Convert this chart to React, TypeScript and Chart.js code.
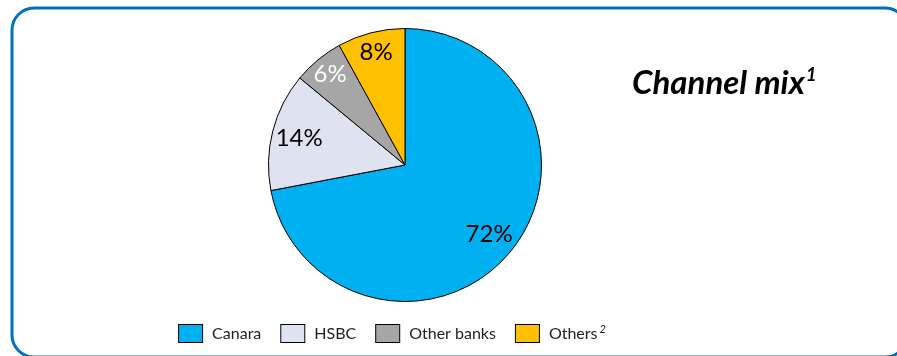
import React, { useEffect, useRef } from "react";
import { Chart, registerables } from "chart.js";
Chart.register(...registerables);

const categories = ["Canara", "HSBC", "Other banks", "Others"];
const shares = [72, 14, 6, 8];
const valueLabels = ["72%", "14%", "6%", "8%"];
const legendSuperscripts = ["", "", "", "2"];
const sliceColors = ["#00B0F0", "#DEE3EF", "#A6A6A6", "#FFC000"];
const labelColors = ["#000000", "#000000", "#ffffff", "#000000"];
const labelRadiusFractions = [0.8, 0.8, 0.86, 0.85];
const titleText = "Channel mix";
const titleSup = "1";

const FONT = "Lato, 'Open Sans', sans-serif";

const decorPlugin = {
  id: "decor",
  afterDraw(chart: any) {
    const ctx = chart.ctx as CanvasRenderingContext2D;
    ctx.save();
    // rounded border
    ctx.strokeStyle = "#0070C0";
    ctx.lineWidth = 3;
    ctx.beginPath();
    (ctx as any).roundRect(12, 8, 895, 349, 22);
    ctx.stroke();

    // title
    ctx.fillStyle = "#000";
    ctx.textAlign = "left";
    ctx.textBaseline = "alphabetic";
    ctx.font = `italic bold 33px ${FONT}`;
    ctx.fillText(titleText, 632, 94);
    const tw = ctx.measureText(titleText).width;
    ctx.font = `italic bold 19px ${FONT}`;
    ctx.fillText(titleSup, 632 + tw + 1, 81);

    // value labels
    const meta = chart.getDatasetMeta(0);
    ctx.font = `24px ${FONT}`;
    ctx.textAlign = "center";
    ctx.textBaseline = "middle";
    meta.data.forEach((arc: any, i: number) => {
      const p = arc.getProps(["x", "y", "startAngle", "endAngle", "outerRadius"], true);
      const mid = (p.startAngle + p.endAngle) / 2;
      const r = p.outerRadius * labelRadiusFractions[i];
      ctx.fillStyle = labelColors[i];
      ctx.fillText(valueLabels[i], p.x + Math.cos(mid) * r, p.y + Math.sin(mid) * r);
    });

    // legend
    const labels: string[] = chart.data.labels;
    const colors: string[] = chart.data.datasets[0].backgroundColor;
    const boxW = 24, boxH = 18, boxGap = 10, itemGap = 19;
    const legFont = `16px ${FONT}`;
    const supFont = `italic 11px ${FONT}`;
    ctx.font = legFont;
    const widths = labels.map((l, i) => {
      let w = ctx.measureText(l).width;
      if (legendSuperscripts[i]) {
        ctx.font = supFont;
        w += 2 + ctx.measureText(legendSuperscripts[i]).width;
        ctx.font = legFont;
      }
      return boxW + boxGap + w;
    });
    const total = widths.reduce((a, b) => a + b, 0) + itemGap * (labels.length - 1);
    let x = 392 - total / 2;
    const cy = 333;
    labels.forEach((l, i) => {
      ctx.fillStyle = colors[i];
      ctx.fillRect(x + 0.5, cy - boxH / 2 + 0.5, boxW, boxH);
      ctx.strokeStyle = "#000";
      ctx.lineWidth = 1;
      ctx.strokeRect(x + 0.5, cy - boxH / 2 + 0.5, boxW, boxH);
      ctx.fillStyle = "#222";
      ctx.textAlign = "left";
      ctx.textBaseline = "middle";
      ctx.font = legFont;
      const tx = x + boxW + boxGap;
      ctx.fillText(l, tx, cy + 1);
      if (legendSuperscripts[i]) {
        const lw = ctx.measureText(l).width;
        ctx.font = supFont;
        ctx.fillText(legendSuperscripts[i], tx + lw + 2, cy - 4);
      }
      x += widths[i] + itemGap;
    });
    ctx.restore();
  },
};

export default function App() {
  const ref = useRef<HTMLCanvasElement | null>(null);
  useEffect(() => {
    if (!ref.current) return;
    const chart = new Chart(ref.current, {
      type: "pie",
      data: {
        labels: categories,
        datasets: [
          {
            data: shares,
            backgroundColor: sliceColors,
            borderColor: "#000000",
            borderWidth: 1,
          },
        ],
      },
      options: {
        responsive: false,
        animation: false,
        layout: { padding: { left: 268, top: 28, right: 355, bottom: 54 } },
        plugins: {
          legend: { display: false },
          tooltip: { enabled: false },
          title: { display: false },
        },
      },
      plugins: [decorPlugin],
    });
    return () => chart.destroy();
  }, []);
  return (
    <div style={{ position: "fixed", left: 0, top: 0, width: 897, height: 356, background: "#fff" }}>
      <canvas ref={ref} width={897} height={356} style={{ width: 897, height: 356, display: "block" }} />
    </div>
  );
}
